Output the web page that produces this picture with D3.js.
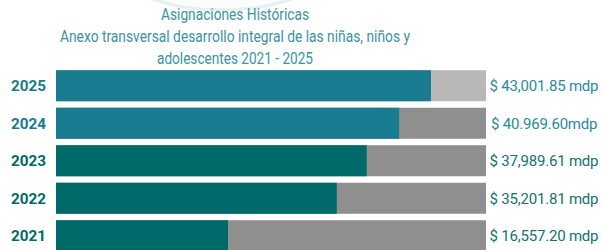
<!DOCTYPE html>
<html>
<head>
<meta charset="utf-8">
<script src="https://cdn.jsdelivr.net/npm/d3@7"></script>
<style>
  body { margin: 0; background: #fff; }
  svg { display: block; font-family: Roboto, "Noto Sans", sans-serif; }
</style>
</head>
<body>
<div class="chart"></div>
<script>
// Data

const years = ['2025', '2024', '2023', '2022', '2021']
const amounts = ['$ 43,001.85 mdp', '$ 40.969.60mdp', '$ 37,989.61 mdp', '$ 35,201.81 mdp', '$ 16,557.20 mdp']
// share of each bar that is coloured
const fillShare = [0.872, 0.798, 0.7225, 0.653, 0.40]
const titleLines = [
  'Asignaciones Históricas',
  'Anexo transversal desarrollo integral de las niñas, niños y',
  'adolescentes 2021 - 2025'
]

const width = 602
const height = 250

// the reference uses a narrow face, squeeze text to its widths
const titleWidths = [148, 350, 156]

const fillColor = (d) => (d === '2025' || d === '2024') ? '#187b8f' : '#006a6a'
const restColor = (d) => d === '2025' ? '#b9b8b6' : '#8f8f8f'
const labelColor = (d) => (d === '2025' || d === '2024') ? '#2a8a9c' : '#137272'

const svg = d3.select('.chart')
  .append('svg')
    .attr('width', width)
    .attr('height', height)

// faint decoration in the top left corner
svg.append('ellipse')
    .attr('cx', 222)
    .attr('cy', -60)
    .attr('rx', 128)
    .attr('ry', 70)
    .style('fill', '#fbfdfd')
    .style('stroke', '#e6f0f1')
    .style('stroke-width', 3)

const x = d3.scaleLinear()
  .domain([0, 1])
  .range([56, 486])

const y = d3.scaleBand()
  .domain(years)
  .range([67, 254.5])
  .paddingInner(0.173)
  .paddingOuter(0.0865)

const rows = svg.selectAll('.row')
    .data(years)
  .enter().append('g')
    .attr('class', 'row')

rows.append('rect')
    .attr('x', x(0))
    .attr('y', (d) => y(d))
    .attr('width', x(1) - x(0))
    .attr('height', y.bandwidth())
    .style('fill', restColor)

rows.append('rect')
    .attr('x', x(0))
    .attr('y', (d) => y(d))
    .attr('width', (d, i) => x(fillShare[i]) - x(0))
    .attr('height', y.bandwidth())
    .style('fill', fillColor)

rows.append('text')
    .attr('x', 46)
    .attr('y', (d) => y(d) + y.bandwidth() / 2)
    .attr('dy', '0.36em')
    .attr('textLength', 35)
    .attr('lengthAdjust', 'spacingAndGlyphs')
    .style('text-anchor', 'end')
    .style('font-weight', 'bold')
    .style('font-size', '15px')
    .style('fill', fillColor)
    .text((d) => d)

rows.append('text')
    .attr('x', (d, i) => x(1) + (i === 1 ? 5 : 3.5))
    .attr('y', (d) => y(d) + y.bandwidth() / 2)
    .attr('dy', '0.36em')
    .style('font-size', '15px')
    .style('letter-spacing', '-0.2px')
    .style('fill', labelColor)
    .text((d, i) => amounts[i])

svg.selectAll('.title')
    .data(titleLines)
  .enter().append('text')
    .attr('class', 'title')
    .attr('x', 235)
    .attr('y', (d, i) => 20 + i * 22)
    .attr('textLength', (d, i) => titleWidths[i])
    .attr('lengthAdjust', 'spacingAndGlyphs')
    .style('text-anchor', 'middle')
    .style('font-size', '17px')
    .style('fill', '#3b93a3')
    .text((d) => d)
</script>
</body>
</html>
